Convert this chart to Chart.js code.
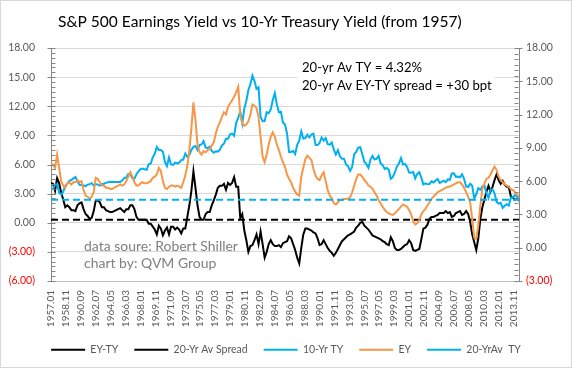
<!DOCTYPE html>
<html>
<head>
<meta charset="utf-8">
<script src="https://cdn.jsdelivr.net/npm/chart.js@4.4.1/dist/chart.umd.min.js"></script>
<style>
  html, body { margin: 0; padding: 0; background: #fff; }
  #marco { width: 570px; height: 366px; border: 1px solid #d9d9d9; position: relative; }
</style>
</head>
<body>
<div id="marco"><canvas id="grafico"></canvas></div>
<script>
// ================== DATOS ==================
// Valores trimestrales (ene, abr, jul, oct) desde 1957.01
const mesesPorPaso = 3;
const mesMax = 690;

// 10-Yr TY (eje izquierdo)
const bono10 = [
  3.46, 3.48, 3.93, 3.97,  3.09, 2.88, 3.20, 3.80,  4.02, 4.32, 4.40, 4.57,
  4.72, 4.28, 3.90, 3.89,  3.84, 3.78, 3.92, 3.98,  4.08, 3.84, 3.98, 3.93,
  3.83, 3.97, 4.02, 4.11,  4.17, 4.23, 4.20, 4.19,  4.19, 4.20, 4.20, 4.35,
  4.61, 4.65, 5.02, 5.00,  4.58, 4.54, 5.00, 5.30,  5.53, 5.59, 5.50, 5.46,
  6.04, 6.08, 6.72, 7.10,  7.80, 7.50, 7.50, 7.30,  6.24, 5.83, 6.73, 6.00,
  5.95, 6.19, 6.12, 6.20,  6.46, 6.51, 7.13, 6.79,  6.99, 7.51, 7.81, 7.90,
  7.50, 8.00, 8.06, 8.40,  7.74, 7.70, 7.84, 7.40,  7.21, 7.37, 7.33, 7.52,
  7.96, 8.15, 8.64, 8.64,  9.10, 9.18, 8.95, 10.30, 10.80, 11.47, 10.25, 11.75,
  12.57, 13.68, 14.28, 15.15,  14.59, 13.80, 13.95, 10.90,  10.46, 10.48, 11.38, 11.28,
  11.67, 12.65, 13.36, 12.16,  11.38, 11.43, 10.31, 10.15,  9.19, 7.30, 7.30, 7.40,
  7.08, 8.02, 8.45, 9.42,  8.67, 8.72, 9.06, 8.80,  9.09, 9.18, 8.02, 8.00,
  8.21, 8.79, 8.47, 8.72,  8.09, 8.04, 8.27, 7.53,  7.03, 7.48, 6.84, 6.59,
  6.60, 6.00, 5.81, 5.33,  5.75, 7.06, 7.30, 7.74,  7.78, 7.06, 6.28, 6.04,
  5.65, 6.51, 6.87, 6.53,  6.58, 6.89, 6.12, 5.93,  5.54, 5.64, 5.46, 4.53,
  4.72, 5.18, 5.79, 6.11,  6.66, 5.99, 6.05, 5.74,  5.16, 5.14, 5.24, 4.57,
  5.04, 5.21, 4.65, 3.94,  4.05, 3.96, 3.98, 4.27,  4.15, 4.35, 4.50, 4.10,
  4.22, 4.34, 4.18, 4.46,  4.42, 5.07, 5.09, 4.73,  4.76, 4.69, 5.00, 4.53,
  3.74, 3.68, 4.01, 3.81,  2.52, 2.93, 3.56, 3.39,  3.73, 3.85, 3.01, 2.54,
  3.39, 3.46, 3.00, 2.15,  1.97, 2.05, 1.53, 1.75,  1.91, 1.76, 2.58, 2.62,
  2.86, 2.71, 2.20
];

// EY (eje derecho)
const ey = [
  7.6, 7.5, 7.2, 8.4,  7.2, 6.0, 5.6, 5.4,  5.8, 5.9, 5.7, 5.9,
  5.9, 6.1, 5.9, 6.0,  5.2, 4.7, 4.6, 4.4,  4.6, 5.0, 6.3, 6.2,
  5.9, 5.6, 5.6, 5.4,  5.4, 5.3, 5.3, 5.4,  5.5, 5.6, 5.7, 5.6,
  5.7, 6.0, 6.4, 6.8,  6.4, 5.9, 5.6, 5.6,  5.8, 5.9, 5.8, 5.8,
  5.9, 6.0, 6.3, 6.4,  6.6, 7.2, 6.9, 6.0,  5.4, 5.3, 5.5, 5.6,
  5.6, 5.5, 5.6, 5.5,  5.4, 5.9, 6.5, 7.4,  8.8, 10.8, 13.1, 11.5,
  9.3, 8.6, 8.4, 8.7,  8.6, 8.8, 8.9, 9.2,  9.5, 10.3, 10.9, 11.3,
  11.8, 12.2, 12.0, 12.7,  13.0, 13.3, 13.6, 14.0,  14.5, 12.0, 11.2, 11.0,
  11.1, 11.4, 12.0, 12.9,  12.8, 12.6, 11.8, 10.0,  8.2, 7.7, 8.4, 9.3,
  10.0, 10.4, 10.0, 9.3,  8.8, 8.2, 7.7, 7.3,  6.6, 6.2, 5.9, 5.4,
  5.05, 4.8, 4.7, 6.4,  7.2, 8.0, 8.3, 8.1,  7.9, 7.1, 6.5, 6.2,
  6.1, 6.5, 6.8, 6.0,  5.2, 4.7, 4.45, 4.0,  3.9, 4.1, 4.3, 4.3,
  4.4, 4.4, 4.45, 4.5,  5.0, 5.6, 6.2, 6.6,  6.6, 6.4, 6.1, 5.9,
  5.6, 5.5, 5.3, 5.0,  4.7, 4.3, 4.0, 3.7,  3.4, 3.2, 3.1, 3.0,
  2.95, 3.1, 3.3, 3.5,  3.7, 3.9, 3.8, 3.7,  3.4, 3.0, 2.4, 2.1,
  2.2, 2.5, 3.0, 3.3,  3.5, 3.8, 4.1, 4.4,  4.6, 4.8, 5.0, 5.1,
  5.2, 5.3, 5.4, 5.5,  5.5, 5.6, 5.7, 5.8,  5.9, 5.9, 5.7, 5.4,
  5.0, 4.6, 4.1, 2.6,  0.9, 0.8, 2.0, 3.8,  5.3, 5.8, 6.2, 6.3,
  6.6, 7.0, 7.3, 7.0,  6.4, 6.1, 5.9, 5.7,  5.6, 5.5, 5.3, 5.2,
  5.0, 4.8, 4.55
];

// EY-TY (eje izquierdo)
const eyMenosTy = [
  4.1, 4.0, 3.3, 4.6,  4.1, 3.1, 2.4, 1.6,  1.8, 1.6, 1.3, 1.3,
  1.2, 1.8, 2.0, 2.1,  1.4, 0.9, 0.7, 0.4,  0.5, 1.2, 2.3, 2.3,
  2.1, 1.6, 1.6, 1.3,  1.2, 1.1, 1.1, 1.2,  1.3, 1.4, 1.5, 1.3,
  1.1, 1.4, 1.4, 1.8,  1.8, 1.4, 0.6, 0.3,  0.3, 0.3, 0.3, 0.3,
  -0.1, -0.1, -0.4, -0.7,  -1.2, -0.3, -0.6, -1.3,  -0.8, -0.5, -1.2, -0.4,
  -0.4, -0.7, -0.5, -0.7,  -1.1, -0.6, -0.6, 0.6,  1.8, 3.3, 5.3, 3.6,
  1.8, 0.6, 0.3, 0.3,  0.9, 1.1, 1.1, 1.8,  2.3, 2.9, 3.6, 3.8,
  3.8, 4.0, 3.4, 4.1,  3.9, 4.1, 4.7, 3.7,  3.7, 0.5, 0.9, -0.8,
  -1.8, -3.0, -2.4, -2.3,  -1.8, -1.2, -2.2, -0.9,  -2.2, -3.6, -3.0, -2.2,
  -1.8, -2.2, -2.4, -2.4,  -2.3, -2.5, -2.1, -2.0,  -1.9, -1.4, -1.6, -2.2,
  -2.8, -3.6, -4.2, -2.6,  -1.2, -0.6, -0.6, -0.7,  -0.8, -1.0, -1.1, -1.6,
  -2.3, -2.2, -1.8, -2.2,  -2.6, -2.9, -3.1, -3.4,  -3.1, -2.7, -2.3, -1.9,
  -1.7, -1.5, -1.3, -1.2,  -1.05, -0.9, -0.5, -0.3,  0.0, 0.1, -0.3, -0.5,
  -0.7, -1.0, -1.3, -1.4,  -1.5, -1.6, -1.7, -1.9,  -2.0, -2.2, -2.3, -1.5,
  -1.9, -2.6, -2.8, -2.8,  -2.7, -2.5, -2.3, -2.2,  -1.8, -2.1, -2.8, -2.9,
  -2.8, -2.7, -1.7, -0.6,  -0.5, -0.2, 0.4, 0.6,  0.6, 0.7, 0.8, 1.0,
  1.0, 1.0, 1.2, 1.0,  1.1, 0.6, 0.7, 1.0,  1.1, 1.2, 0.8, 0.9,
  1.2, 0.9, 0.1, -1.2,  -2.0, -2.8, -1.6, 0.4,  1.6, 2.4, 3.2, 3.8,
  3.2, 3.7, 4.4, 5.0,  4.4, 4.0, 4.3, 3.9,  3.7, 3.7, 2.7, 2.6,
  2.4, 2.5, 2.4
];

// Promedios de 20 años (líneas discontinuas)
const promedioSpread = 0.30;
const promedioTY = 4.32;

// Etiquetas del eje X, una cada 22 meses
const etiquetasX = [
  '1957.01', '1958.11', '1960.09', '1962.07', '1964.05', '1966.03', '1968.01', '1969.11',
  '1971.09', '1973.07', '1975.05', '1977.03', '1979.01', '1980.11', '1982.09', '1984.07',
  '1986.05', '1988.03', '1990.01', '1991.11', '1993.09', '1995.07', '1997.05', '1999.03',
  '2001.01', '2002.11', '2004.09', '2006.07', '2008.05', '2010.03', '2012.01', '2013.11'
];
const mesesEntreEtiquetas = 22;

// ================== AYUDAS ==================
const aPuntos = (serie) => serie.map((v, i) => ({ x: i * mesesPorPaso, y: v }));
const lineaPlana = (valor) => [{ x: 0, y: valor }, { x: mesMax, y: valor }];

function formatoNumero(valor) {
    const txt = Math.abs(valor).toFixed(2);
    return valor < 0 ? `(${txt})` : txt;
}

const colorTick = (ctx) => (ctx.tick && ctx.tick.value < 0 ? '#ff0000' : '#595959');

function tamanoParaAncho(ctx, texto, ancho) {
    ctx.font = '100px Lato';
    return 100 * ancho / ctx.measureText(texto).width;
}

// ================== PLUGINS ==================
// Marcas menores de los ejes Y (cada 0.5)
const marcasEjes = {
    id: 'marcasEjes',
    afterDatasetsDraw(chart) {
        const { ctx, chartArea, scales } = chart;
        ctx.save();
        ctx.strokeStyle = '#868686';
        ctx.lineWidth = 1;
        [['y', Math.round(chartArea.left) + 0.5, 1], ['y2', Math.round(chartArea.right) - 0.5, -1]].forEach(([id, x0, dentro]) => {
            const eje = scales[id];
            for (let v = eje.min; v <= eje.max + 1e-9; v += 0.5) {
                const py = Math.round(eje.getPixelForValue(v)) + 0.5;
                const mayor = Math.abs(v % 3) < 1e-9;
                ctx.beginPath();
                ctx.moveTo(mayor ? x0 - 4 * dentro : x0, py);
                ctx.lineTo(x0 + 4 * dentro, py);
                ctx.stroke();
            }
        });
        ctx.restore();
    }
};

// Título y cuadros de texto
const textosFijos = {
    id: 'textosFijos',
    beforeDatasetsDraw(chart) {
        const ctx = chart.ctx;
        ctx.save();
        ctx.fillStyle = '#ffffff';
        ctx.fillRect(296, 51, 198, 48);
        ctx.restore();
    },
    afterDraw(chart) {
        const ctx = chart.ctx;
        ctx.save();
        ctx.textBaseline = 'alphabetic';
        ctx.textAlign = 'left';

        const titulo = 'S&P 500 Earnings Yield vs 10-Yr Treasury Yield (from 1957)';
        ctx.font = `${tamanoParaAncho(ctx, titulo, 404)}px Lato`;
        ctx.fillStyle = '#000000';
        ctx.fillText(titulo, 57, 26);

        const linea1 = '20-yr Av TY = 4.32%';
        const linea2 = '20-yr Av EY-TY spread = +30 bpt';
        ctx.font = `${tamanoParaAncho(ctx, linea2, 190)}px Lato`;
        ctx.fillText(linea1, 301, 71);
        ctx.fillText(linea2, 301, 89);

        const fuente1 = 'data soure: Robert Shiller';
        const fuente2 = 'chart by: QVM Group';
        ctx.font = `${tamanoParaAncho(ctx, fuente1, 154)}px Lato`;
        ctx.fillStyle = '#7f7f7f';
        ctx.fillText(fuente1, 83, 250);
        ctx.fillText(fuente2, 83, 267);
        ctx.restore();
    }
};

// ================== GRÁFICO ==================
Chart.defaults.font.family = "Lato, 'Liberation Sans', sans-serif";

const comun = { borderWidth: 2, pointRadius: 0, fill: false, tension: 0 };

// order: las series del eje derecho quedan encima, como en Excel
new Chart(document.getElementById('grafico'), {
    type: 'line',
    data: {
        datasets: [
            { ...comun, label: 'EY-TY', data: aPuntos(eyMenosTy), borderColor: '#000000', yAxisID: 'y', order: 5 },
            { ...comun, label: '20-Yr Av Spread', data: lineaPlana(promedioSpread), borderColor: '#000000', borderDash: [7, 4], yAxisID: 'y', order: 4 },
            { ...comun, label: '10-Yr TY', data: aPuntos(bono10), borderColor: '#00b0f0', yAxisID: 'y', order: 3 },
            { ...comun, label: 'EY', data: aPuntos(ey), borderColor: '#f79646', yAxisID: 'y2', order: 2 },
            { ...comun, label: '20-YrAv  TY', data: lineaPlana(promedioTY), borderColor: '#00b0f0', borderDash: [7, 4], yAxisID: 'y2', order: 1 }
        ]
    },
    options: {
        responsive: true,
        maintainAspectRatio: false,
        animation: false,
        events: [],
        layout: { padding: { top: 47, left: 0, right: 0, bottom: 2 } },
        plugins: {
            title: { display: false },
            tooltip: { enabled: false },
            legend: {
                position: 'bottom',
                labels: {
                    usePointStyle: true,
                    pointStyle: 'line',
                    pointStyleWidth: 34,
                    padding: 16,
                    color: '#595959',
                    font: { size: 10.5 },
                    sort: (a, b) => a.datasetIndex - b.datasetIndex
                }
            }
        },
        scales: {
            x: {
                type: 'linear',
                min: 0,
                max: mesMax,
                afterBuildTicks: (eje) => {
                    eje.ticks = etiquetasX.map((_, i) => ({ value: i * mesesEntreEtiquetas }));
                },
                afterFit: (eje) => { eje.height = 47.5; },
                grid: { display: false, drawTicks: false },
                border: { color: '#bfbfbf' },
                ticks: {
                    autoSkip: false,
                    minRotation: 90,
                    maxRotation: 90,
                    padding: 9,
                    color: '#595959',
                    font: { size: 10 },
                    callback: (valor, indice) => etiquetasX[indice]
                }
            },
            y: {
                position: 'left',
                min: -6,
                max: 18,
                afterFit: (eje) => { eje.width = 50; },
                grid: { color: '#d9d9d9', drawTicks: false },
                border: { color: '#868686' },
                ticks: { stepSize: 3, padding: 16, color: colorTick, font: { size: 10.5 }, callback: formatoNumero }
            },
            y2: {
                position: 'right',
                min: -3,
                max: 18,
                afterFit: (eje) => { eje.width = 52; },
                grid: { drawOnChartArea: false, drawTicks: false },
                border: { color: '#868686' },
                ticks: { stepSize: 3, padding: 7, color: colorTick, font: { size: 10.5 }, callback: formatoNumero }
            }
        }
    },
    plugins: [marcasEjes, textosFijos]
});
</script>
</body>
</html>
